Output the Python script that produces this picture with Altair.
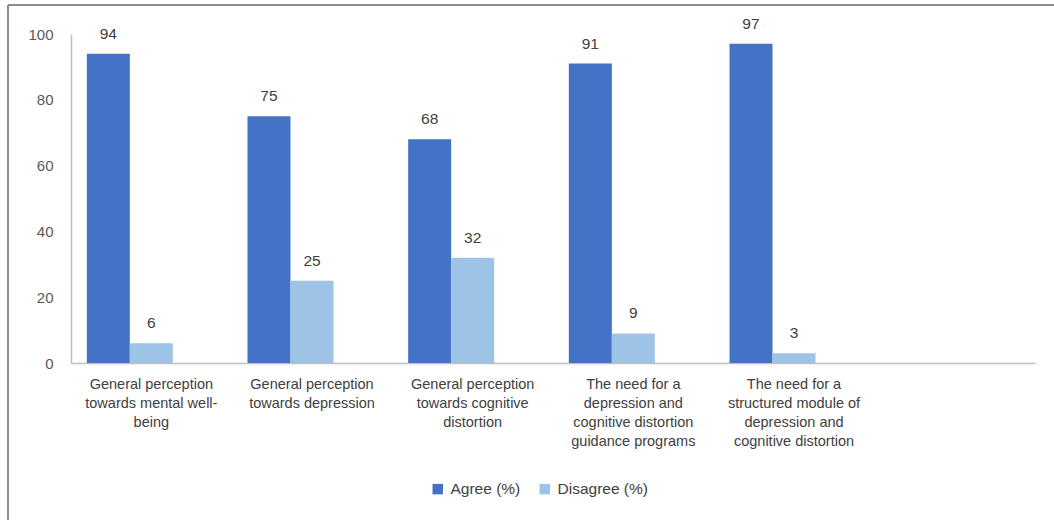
import altair as alt
import pandas as pd

categories = [
    "General perception\ntowards mental well-\nbeing",
    "General perception\ntowards depression",
    "General perception\ntowards cognitive\ndistortion",
    "The need for a\ndepression and\ncognitive distortion\nguidance programs",
    "The need for a\nstructured module of\ndepression and\ncognitive distortion",
]
agree = [94, 75, 68, 91, 97]
disagree = [6, 25, 32, 9, 3]
series = ["Agree (%)", "Disagree (%)"]
colors = ["#4472C4", "#9DC3E6"]
y_ticks = [0, 20, 40, 60, 80, 100]

rows = []
for c, a, d in zip(categories, agree, disagree):
    rows.append({"cat": c, "series": series[0], "value": a})
    rows.append({"cat": c, "series": series[1], "value": d})
df = pd.DataFrame(rows)

x_domain = categories + [" "]
FONT = "Liberation Sans"

x_enc = alt.X(
    "cat:N",
    sort=x_domain,
    scale=alt.Scale(domain=x_domain, paddingInner=0, paddingOuter=0),
    axis=alt.Axis(
        title=None, labelAngle=0, ticks=False, domainColor="#BFBFBF", domainWidth=1.5,
        labelPadding=14, labelFontSize=14.5, labelColor="#404040", labelLineHeight=19,
        labelLimit=0, labelExpr="split(datum.label, '\\n')", labelFont=FONT,
    ),
)
xoff = alt.XOffset(
    "series:N",
    scale=alt.Scale(domain=series + ["_"], paddingOuter=0.368, paddingInner=0),
)
y_enc = alt.Y(
    "value:Q",
    scale=alt.Scale(domain=[0, 100]),
    axis=alt.Axis(
        title=None, values=y_ticks, grid=False, ticks=False, domainColor="#BFBFBF",
        domainWidth=1.5, labelPadding=18, labelFontSize=15, labelColor="#595959",
        labelFont=FONT,
    ),
)

bars = alt.Chart(df).mark_bar().encode(
    x=x_enc,
    xOffset=xoff,
    y=y_enc,
    color=alt.Color(
        "series:N",
        scale=alt.Scale(domain=series, range=colors),
        legend=alt.Legend(
            title=None, orient="none", legendX=359, legendY=447, direction="horizontal",
            symbolType="square", symbolSize=110, symbolStrokeWidth=0, labelFontSize=15.5,
            labelColor="#404040", labelFont=FONT, columnPadding=16, labelOffset=5,
        ),
    ),
)

labels = alt.Chart(df).mark_text(
    baseline="alphabetic", dy=-15, fontSize=15.5, color="#404040", font=FONT
).encode(
    x=alt.X("cat:N", sort=x_domain),
    xOffset=xoff,
    y="value:Q",
    text="value:Q",
)

border_top = alt.Chart(df).mark_rule(color="#8C8C8C", strokeWidth=1.5).encode(
    x=alt.value(-63), x2=alt.value(983), y=alt.value(-29)
)
border_left = alt.Chart(df).mark_rule(color="#8C8C8C", strokeWidth=1.5).encode(
    x=alt.value(-63), y=alt.value(-29), y2=alt.value(486)
)

chart = alt.layer(bars, labels, border_top, border_left).properties(
    width=964,
    height=329,
    background="white",
    autosize=alt.AutoSizeParams(type="none"),
    padding={"left": 71, "top": 34, "right": 19, "bottom": 157},
).configure_view(strokeWidth=0, stroke="transparent")

chart.save("out.html", embed_options={"renderer": "svg", "actions": False})
